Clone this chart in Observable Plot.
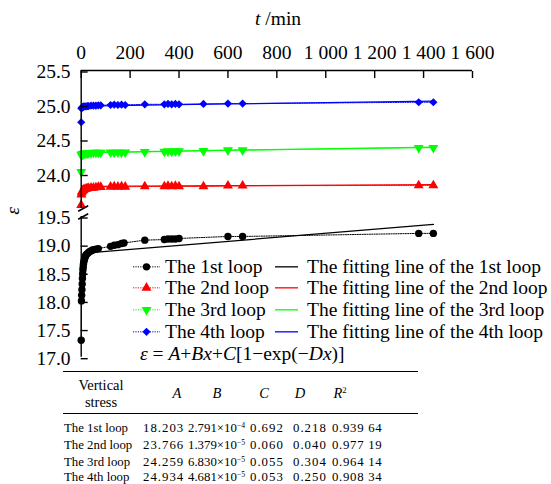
<!DOCTYPE html>
<html><head><meta charset="utf-8">
<script src="https://cdn.jsdelivr.net/npm/d3@7"></script>
<script src="https://cdn.jsdelivr.net/npm/@observablehq/plot@0.6"></script>
<style>
body{margin:0;background:#fff;font-family:"Liberation Serif","Times New Roman",serif;color:#000;}
#wrap{position:relative;width:551px;height:484px;overflow:hidden;background:#fff;}
#chart{position:absolute;left:0;top:0;}
.abs{position:absolute;white-space:nowrap;}
.big{font-size:19.5px;}
.leg{position:absolute;left:133px;top:255.8px;display:grid;grid-template-columns:32px 110px 32px auto;grid-auto-rows:21.67px;font-size:19.5px;line-height:21.67px;}
.leg svg{display:block;}
.cell{position:absolute;white-space:nowrap;line-height:16px;height:16px;font-family:"Liberation Serif","Times New Roman",serif;}
sup{font-size:0.6em;vertical-align:0.55em;line-height:0;letter-spacing:0;}
</style></head>
<body><div id="wrap"><div id="chart"></div></div>
<script>
// ---- data ----
const xTicks = [0, 200, 400, 600, 800, 1000, 1200, 1400, 1600];
const yTicks = [17, 17.5, 18, 18.5, 19, 19.5, 24, 24.5, 25, 25.5];
const yBreaks = [19.5, 23.5];
const loopNames = ["The 1st loop", "The 2nd loop", "The 3rd loop", "The 4th loop"];
const fitNames = ["The fitting line of the 1st loop", "The fitting line of the 2nd loop", "The fitting line of the 3rd loop", "The fitting line of the 4th loop"];
const loopColors = ["#000000", "#ff0000", "#00ff00", "#0000ff"];
const loopSymbols = ["circle", "triangle", "triangle", "diamond2"];
const loopRotate = [0, 0, 180, 0];

const tBlack = [0,1,2,3,4,5,6,7,8,9,10,12,14,16,18,20,25,30,35,40,45,50,60,70,120,135,150,165,175,260,340,355,370,385,400,600,660,1380,1440];
const eBlack = [17.3,18.0,18.1,18.2,18.3,18.4,18.48,18.55,18.6,18.65,18.68,18.72,18.75,18.78,18.8,18.82,18.84,18.86,18.88,18.89,18.9,18.91,18.92,18.93,18.97,18.99,19.0,19.02,19.03,19.08,19.09,19.1,19.1,19.1,19.11,19.145,19.145,19.2,19.2];
const tLoop = [0,1,2,4,6,8,10,15,20,25,30,40,50,60,70,80,120,135,150,165,180,260,340,355,370,385,400,500,600,660,1380,1440];
const eRed = [23.55,23.70,23.73,23.75,23.76,23.765,23.77,23.78,23.785,23.79,23.795,23.80,23.80,23.805,23.81,23.81,23.815,23.82,23.815,23.82,23.815,23.82,23.82,23.825,23.82,23.825,23.82,23.82,23.83,23.83,23.835,23.835];
const eGreen = [24.03,24.27,24.28,24.285,24.29,24.29,24.295,24.30,24.30,24.30,24.305,24.305,24.31,24.31,24.31,24.31,24.315,24.31,24.315,24.31,24.315,24.32,24.325,24.33,24.325,24.33,24.33,24.335,24.345,24.345,24.38,24.38];
const eBlue = [24.75,24.95,24.96,24.965,24.97,24.975,24.975,24.98,24.98,24.985,24.985,24.99,24.99,24.99,24.995,24.995,25.0,25.005,25.0,25.005,25.0,25.01,25.01,25.015,25.01,25.015,25.01,25.015,25.02,25.02,25.04,25.04];

const fitT1 = [0,1,2,4,6,10,20,40,65,1440];
const fit1 = [18.2,18.4,18.55,18.7,18.78,18.83,18.85,18.86,18.866,19.36];
const fitT2 = [0,5,10,20,40,80,200,600,1440];
const fit2 = [23.77,23.78,23.79,23.80,23.81,23.82,23.825,23.83,23.845];
const fitT3 = [0,3,10,20,200,600,1440];
const fit3 = [24.26,24.29,24.305,24.31,24.32,24.345,24.39];
const fitT4 = [0,3,10,200,600,1440];
const fit4 = [24.93,24.97,24.985,24.995,25.015,25.055];

// table
const tableLoops = ["The 1st loop", "The 2nd loop", "The 3rd loop", "The 4th loop"];
const colA = [18.203, 23.766, 24.259, 24.934];
const colBMant = [2.791, 1.379, 6.830, 4.681];
const colBExp = [-4, -5, -5, -5];
const colC = [0.692, 0.060, 0.055, 0.053];
const colD = [0.218, 0.040, 0.304, 0.250];
const colR2 = [0.93964, 0.97719, 0.96414, 0.90834];

// ---- build rows ----
const zip = (ts, es, i) => ts.map((t, k) => ({loop: i, t, e: es[k]}));
const pts = [zip(tBlack, eBlack, 0), zip(tLoop, eRed, 1), zip(tLoop, eGreen, 2), zip(tLoop, eBlue, 3)];
const fits = [zip(fitT1, fit1, 0), zip(fitT2, fit2, 1), zip(fitT3, fit3, 2), zip(fitT4, fit4, 3)];
const axisSegs = [{lo: 17, hi: 19.5}, {lo: 23.5, hi: 25.5}];

const slash = {draw(ctx) { ctx.moveTo(-5, 2.8); ctx.lineTo(5, -2.8); }};
const fmtX = d => d3.format(",")(d).replace(/,/g, " ");

const marks = [];
fits.forEach((f, i) => marks.push(Plot.line(f, {x: "t", y: "e", stroke: loopColors[i], strokeWidth: 1.3})));
pts.forEach((p, i) => marks.push(Plot.line(p, {x: "t", y: "e", stroke: loopColors[i], strokeWidth: 1, strokeDasharray: "1.2,1.2"})));
pts.forEach((p, i) => marks.push(Plot.dot(p, {x: "t", y: "e", fill: loopColors[i], symbol: loopSymbols[i], rotate: loopRotate[i], r: 3.7})));
marks.push(
  Plot.ruleY([yTicks[yTicks.length - 1]], {stroke: "#000", strokeWidth: 1.4}),
  Plot.ruleX(axisSegs, {x: () => 0, y1: "lo", y2: "hi", stroke: "#000", strokeWidth: 1.4}),
  Plot.dot(yBreaks, {x: () => 0, y: d => d, symbol: slash, r: 4, stroke: "#000", strokeWidth: 1.6, fill: "none", dx: 2}),
  Plot.axisX({anchor: "top", ticks: xTicks, tickFormat: fmtX, tickSize: -7, tickPadding: 18.7, strokeWidth: 1.4, label: null}),
  Plot.axisY({anchor: "left", ticks: yTicks, tickFormat: d => d.toFixed(1), tickSize: -7, tickPadding: 17.7, strokeWidth: 1.4, label: null, dy: 1.5})
);

const chart = Plot.plot({
  width: 551, height: 370,
  marginLeft: 80.7, marginRight: 79, marginTop: 70, marginBottom: 13.3,
  style: {fontFamily: "'Liberation Serif', 'Times New Roman', serif", fontSize: "19.5px", color: "#000", background: "transparent", overflow: "visible"},
  x: {type: "linear", domain: [0, 1600], range: [80.7, 472]},
  y: {type: "linear", domain: [17, 19.5, 23.5, 25.5], range: [356.7, 216, 208, 70]},
  marks
});
const wrap = document.getElementById("wrap");
document.getElementById("chart").appendChild(chart);

function addDiv(html, cls, css) {
  const d = document.createElement("div");
  d.className = cls; d.innerHTML = html; Object.assign(d.style, css); wrap.appendChild(d); return d;
}
// axis titles
addDiv("<i>t</i> /min", "abs big", {left: "255px", top: "7px", lineHeight: "24px"});
addDiv("<i>ε</i>", "abs big", {left: "1px", top: "199px", lineHeight: "24px", width: "24px", textAlign: "center", transform: "rotate(-90deg)"});

// legend
const leg = document.createElement("div"); leg.className = "leg";
function swatch(i, withMarker, w) {
  const h = 21.67, cy = h / 2;
  let s = `<svg width="${w}" height="${h}">`;
  if (withMarker) {
    s += `<line x1="0" x2="27" y1="${cy}" y2="${cy}" stroke="${loopColors[i]}" stroke-width="1" stroke-dasharray="1.2,1.2"/>`;
    const sym = {circle: d3.symbolCircle, triangle: d3.symbolTriangle, diamond2: d3.symbolDiamond2}[loopSymbols[i]];
    const path = d3.symbol(sym, Math.PI * 3.7 * 3.7)();
    s += `<path d="${path}" fill="${loopColors[i]}" transform="translate(13.5,${cy}) rotate(${loopRotate[i]})"/>`;
  } else {
    s += `<line x1="0" x2="23" y1="${cy}" y2="${cy}" stroke="${loopColors[i]}" stroke-width="1.3"/>`;
  }
  return s + "</svg>";
}
loopNames.forEach((n, i) => {
  leg.insertAdjacentHTML("beforeend", `<div>${swatch(i, true, 32)}</div><div>${n}</div><div>${swatch(i, false, 32)}</div><div>${fitNames[i]}</div>`);
});
wrap.appendChild(leg);
// formula
addDiv("<i>ε</i> = <i>A</i>+<i>Bx</i>+<i>C</i>[1−exp(−<i>Dx</i>)]", "abs big", {left: "140px", top: "342px", lineHeight: "24px"});

// table
addDiv("", "abs", {left: "63px", top: "371px", width: "355px", borderTop: "1.6px solid #000"});
addDiv("", "abs", {left: "63px", top: "412.6px", width: "355px", borderTop: "1.4px solid #000"});
const headX = [101, 177, 217, 264, 300, 340];
const headY = 393;
const valX = [64, 143, 188, 250, 293, 332];
const rowY = [428.3, 445, 461.7, 477];
function cell(html, x, y, center, fs, ls) {
  const d = addDiv(html, "cell", {top: (y - 8) + "px", fontSize: fs + "px", letterSpacing: (ls || 0) + "px"});
  if (center) { d.style.left = (x - 60) + "px"; d.style.width = "120px"; d.style.textAlign = "center"; }
  else d.style.left = x + "px";
}
cell("Vertical", headX[0], 385, true, 14.5);
cell("stress", headX[0], 401.7, true, 14.5);
["<i>A</i>", "<i>B</i>", "<i>C</i>", "<i>D</i>", "<i>R</i><sup>2</sup>"].forEach((h, k) => cell(h, headX[k + 1], headY, true, 14.5));
const r2fmt = v => { const s = v.toFixed(5); return s.slice(0, 5) + " " + s.slice(5); };
tableLoops.forEach((n, r) => {
  const y = rowY[r];
  cell(n, valX[0], y, false, 12.8);
  cell(colA[r].toFixed(3), valX[1], y, false, 12.8, 1);
  cell(colBMant[r].toFixed(3) + "×10<sup>−" + Math.abs(colBExp[r]) + "</sup>", valX[2], y, false, 12.8, 0);
  cell(colC[r].toFixed(3), valX[3], y, false, 12.8, 1);
  cell(colD[r].toFixed(3), valX[4], y, false, 12.8, 1);
  cell(r2fmt(colR2[r]), valX[5], y, false, 12.8, 0.7);
});
</script></body></html>
